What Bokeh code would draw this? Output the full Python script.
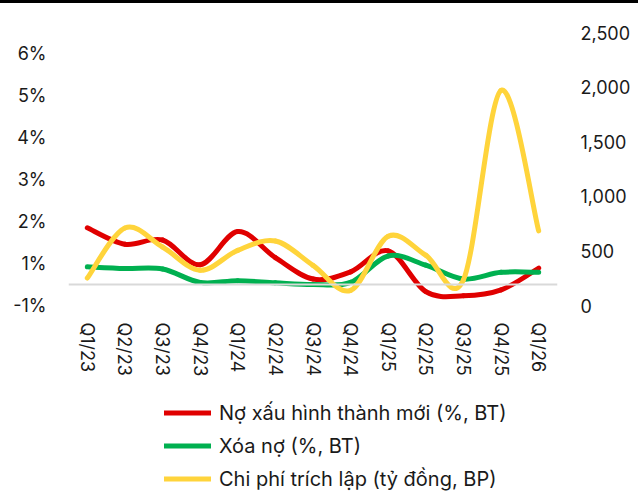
import numpy as np
from bokeh.plotting import figure
from bokeh.models import (Range1d, LinearAxis, Span, Legend, LegendItem, FixedTicker,
                          NumeralTickFormatter, Div, ColumnDataSource)
from bokeh.layouts import column
from bokeh.embed import file_html
from bokeh.resources import INLINE

quarters = ["Q1/23", "Q2/23", "Q3/23", "Q4/23", "Q1/24", "Q2/24", "Q3/24",
            "Q4/24", "Q1/25", "Q2/25", "Q3/25", "Q4/25", "Q1/26"]
new_npl = [1.35, 0.96, 1.06, 0.47, 1.26, 0.64, 0.13, 0.30, 0.80, -0.17, -0.27, -0.13, 0.39]
write_off = [0.42, 0.38, 0.37, 0.05, 0.09, 0.04, 0.00, 0.05, 0.68, 0.46, 0.13, 0.29, 0.29]
provision = [251, 710, 536, 322, 505, 591, 368, 138, 634, 460, 236, 1970, 683]
left_ticks = [-0.5, 0.5, 1.5, 2.5, 3.5, 4.5, 5.5]
left_labels = ["-1%", "1%", "2%", "3%", "4%", "5%", "6%"]
right_ticks = [0, 500, 1000, 1500, 2000, 2500]
series_names = ["Nợ xấu hình thành mới (%, BT)", "Xóa nợ (%, BT)", "Chi phí trích lập (tỷ đồng, BP)"]
colors = ["#E00000", "#00B050", "#FFD43B"]

FONT = "Inter"
TXT = "#1a1a1a"


def smooth_source(ys):
    xs = np.arange(len(ys), dtype=float)
    P = np.column_stack([xs, np.asarray(ys, dtype=float)])
    ext = np.vstack([P[0], P, P[-1]])
    d = dict(x0=[], y0=[], x1=[], y1=[], cx0=[], cy0=[], cx1=[], cy1=[])
    for i in range(len(ys) - 1):
        pp, p0, p1, pn = ext[i], ext[i + 1], ext[i + 2], ext[i + 3]
        c0 = p0 + (p1 - pp) / 6.0
        c1 = p1 - (pn - p0) / 6.0
        d["x0"].append(p0[0]); d["y0"].append(p0[1])
        d["x1"].append(p1[0]); d["y1"].append(p1[1])
        d["cx0"].append(c0[0]); d["cy0"].append(c0[1])
        d["cx1"].append(c1[0]); d["cy1"].append(c1[1])
    return ColumnDataSource(d)


p = figure(width=638, height=392, output_backend="svg", toolbar_location=None, title=None,
           x_range=Range1d(-0.5, len(quarters) - 0.5), y_range=Range1d(-0.5, 6.0),
           min_border_left=68, min_border_right=81, min_border_top=29, min_border_bottom=90)
p.extra_y_ranges = {"right": Range1d(0, 2500)}
p.outline_line_color = None
p.xgrid.visible = False
p.ygrid.visible = False
p.background_fill_color = "white"
p.border_fill_color = "white"


def style_axis(ax, standoff):
    ax.axis_line_color = None
    ax.major_tick_line_color = None
    ax.minor_tick_line_color = None
    ax.major_tick_out = 0
    ax.major_tick_in = 0
    ax.major_label_standoff = standoff
    ax.major_label_text_font = FONT
    ax.major_label_text_font_size = "18px"
    ax.major_label_text_color = TXT


xa = p.xaxis[0]
xa.ticker = FixedTicker(ticks=list(range(len(quarters))))
xa.major_label_overrides = {i: q for i, q in enumerate(quarters)}
xa.major_label_orientation = "vertical"
style_axis(xa, 17)

ya = p.yaxis[0]
ya.ticker = FixedTicker(ticks=left_ticks)
ya.major_label_overrides = {t: l for t, l in zip(left_ticks, left_labels)}
style_axis(ya, 22)

ra = LinearAxis(y_range_name="right", ticker=FixedTicker(ticks=right_ticks),
                formatter=NumeralTickFormatter(format="0,0"))
style_axis(ra, 23)
p.add_layout(ra, "right")

p.add_layout(Span(location=0, dimension="width", line_color="#d9d9d9", line_width=2))

bz = dict(x0="x0", y0="y0", x1="x1", y1="y1", cx0="cx0", cy0="cy0", cx1="cx1", cy1="cy1",
          line_width=5, line_cap="round")
p.bezier(source=smooth_source(new_npl), line_color=colors[0], **bz)
p.bezier(source=smooth_source(write_off), line_color=colors[1], **bz)
p.bezier(source=smooth_source(provision), line_color=colors[2], y_range_name="right", **bz)

# legend panel (separate canvas so it is not clipped by the chart frame)
pl = figure(width=638, height=96, output_backend="svg", toolbar_location=None, title=None,
            x_axis_type=None, y_axis_type=None, x_range=Range1d(0, 1), y_range=Range1d(0, 1),
            min_border=0)
pl.outline_line_color = None
pl.xgrid.visible = False
pl.ygrid.visible = False
dummies = [pl.line(x=[-5, -4], y=[-5, -4], line_color=c, line_width=5, line_cap="round")
           for c in colors]
legend = Legend(items=[LegendItem(label=n, renderers=[r]) for n, r in zip(series_names, dummies)],
                location=(96, -4), orientation="vertical")
legend.border_line_color = None
legend.background_fill_alpha = 0
legend.padding = 0
legend.margin = 0
legend.spacing = 0
legend.glyph_width = 47
legend.glyph_height = 33
legend.label_height = 33
legend.label_standoff = 8
legend.label_text_font = FONT
legend.label_text_font_size = "20px"
legend.label_text_color = TXT
pl.add_layout(legend)

topbar = Div(text="", width=638, height=3, margin=0, styles={"background-color": "#000000"})
layout = column(topbar, p, pl, spacing=0)

open("out.html", "w").write(file_html(layout, INLINE))
